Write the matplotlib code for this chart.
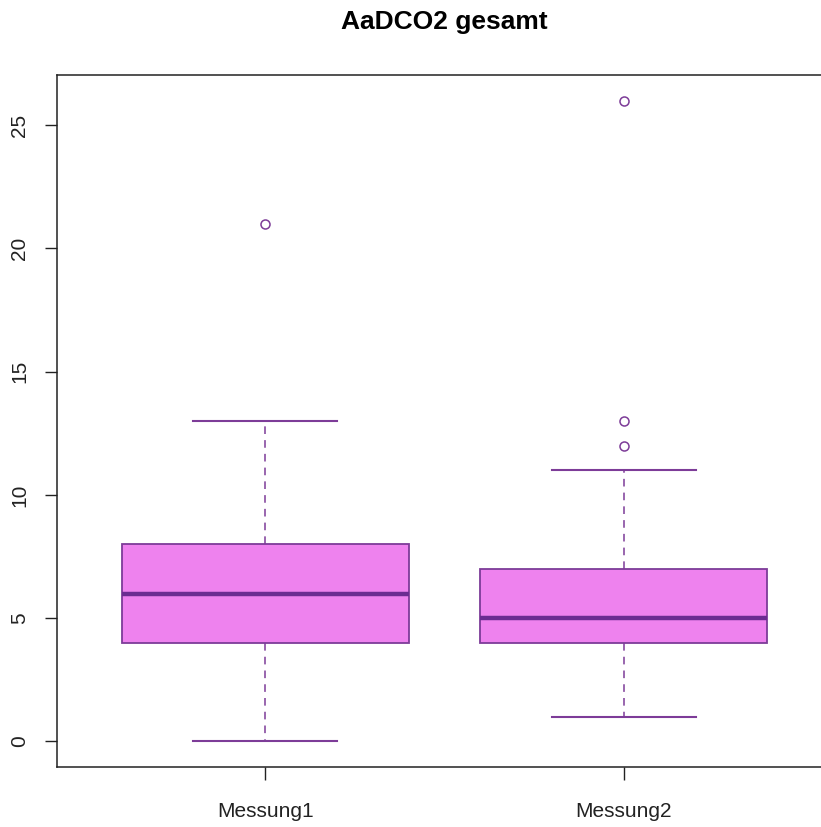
import matplotlib
matplotlib.use("Agg")
import matplotlib.pyplot as plt

plt.rcParams['font.family'] = ['Liberation Sans', 'DejaVu Sans']

# Data (five-number summaries)
labels = ["Messung1", "Messung2"]
lower_whisker = [0, 1]
q1 = [4, 4]
median = [6, 5]
q3 = [8, 7]
upper_whisker = [13, 11]
outliers = [[21], [12, 13, 26]]

fill_col = "#EE82EE"
edge_col = "#7D3C98"

stats = []
for i in range(len(labels)):
    stats.append(dict(label=labels[i], whislo=lower_whisker[i], q1=q1[i],
                      med=median[i], q3=q3[i], whishi=upper_whisker[i],
                      fliers=outliers[i]))

fig = plt.figure(figsize=(8.21, 8.27), dpi=100)
ax = fig.add_axes([57/821, 60/827, 775/821, 692/827])

ax.bxp(stats, positions=[1, 2], widths=0.8, patch_artist=True,
       boxprops=dict(facecolor=fill_col, edgecolor=edge_col, linewidth=1.3),
       medianprops=dict(color="#6B2C91", linewidth=3.2, solid_capstyle='butt'),
       whiskerprops=dict(color=edge_col, linewidth=1.1, linestyle=(0, (5, 4))),
       capprops=dict(color=edge_col, linewidth=1.5),
       capwidths=0.4,
       flierprops=dict(marker='o', markerfacecolor='none', markeredgecolor=edge_col,
                       markersize=6.5, markeredgewidth=1.1))

ax.set_xlim(0.42, 2.58)
ax.set_ylim(-1.04, 27.04)
ax.set_yticks([0, 5, 10, 15, 20, 25])
ax.set_yticklabels(["0", "5", "10", "15", "20", "25"], rotation=90, va='center')
ax.tick_params(axis='both', direction='out', length=9, width=1, labelsize=15, colors='#222222')
ax.tick_params(axis='y', pad=11)
ax.tick_params(axis='x', pad=16)
for s in ax.spines.values():
    s.set_linewidth(1.1)
    s.set_color('#222222')

fig.text(444/821, 1 - 22/827, "AaDCO2 gesamt", ha='center', va='center',
         fontsize=19, fontweight='bold')

fig.savefig("out.png", dpi=100)
